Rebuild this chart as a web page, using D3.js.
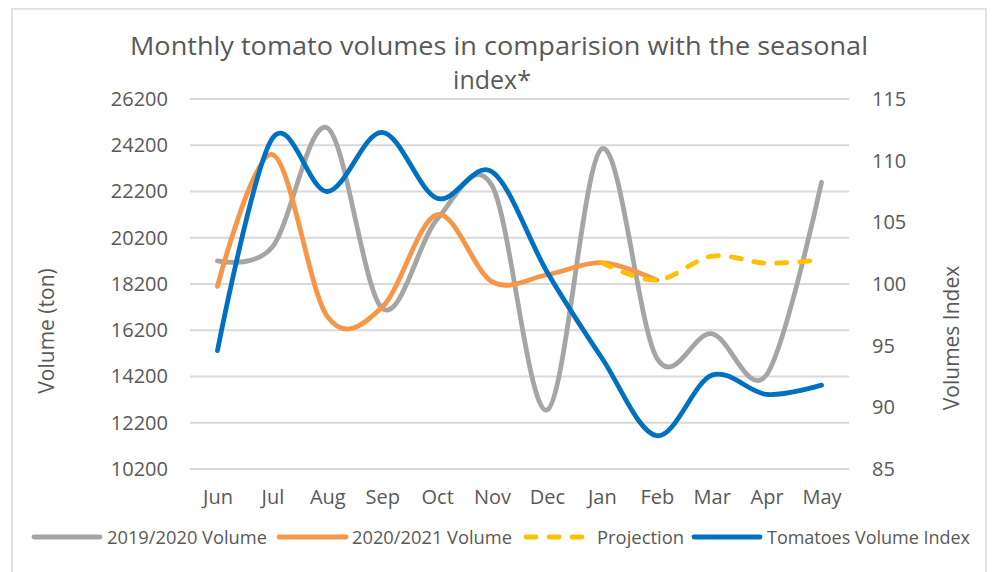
<!DOCTYPE html>
<html>
<head>
<meta charset="utf-8">
<script src="https://cdn.jsdelivr.net/npm/d3@7"></script>
<style>
  body { margin: 0; background: #fff; }
  #graph01 { width: 994px; height: 572px; }
  text { font-family: "Open Sans", "Noto Sans", sans-serif; fill: #595959; }
</style>
</head>
<body>
<div id="graph01"></div>
<script>
// data
const months = ["Jun", "Jul", "Aug", "Sep", "Oct", "Nov", "Dec", "Jan", "Feb", "Mar", "Apr", "May"];
const volume1920 = [19200, 19800, 24950, 17150, 21000, 22450, 12750, 24050, 15000, 16050, 14280, 22600];
const volume2021 = [18100, 23800, 16800, 17200, 21200, 18300, 18600, 19120, 18370];
const projectionMonths = ["Jan", "Feb", "Mar", "Apr", "May"];
const projection = [19120, 18370, 19400, 19100, 19250];
const volumeIndex = [94.6, 111.8, 107.5, 112.3, 106.95, 109.1, 101.0, 94.0, 87.7, 92.6, 91.05, 91.8];
const leftTicks = [10200, 12200, 14200, 16200, 18200, 20200, 22200, 24200, 26200];
const rightTicks = [85, 90, 95, 100, 105, 110, 115];

(function() {
    const contents = d3.select('#graph01');
    const svg = contents.append("svg")
        .attr("width", 994)
        .attr("height", 572);

    // outer frame
    svg.append("rect")
        .attr("x", 12).attr("y", 9)
        .attr("width", 974).attr("height", 600)
        .attr("fill", "#fff")
        .attr("stroke", "#d9d9d9")
        .attr("stroke-width", 1.5);

    const scale = setupGraph(svg);

    const line1 = months.map((m, i) => ({ m: m, v: volume1920[i] }));
    const line2 = volume2021.map((v, i) => ({ m: months[i], v: v }));
    const line3 = projectionMonths.map((m, i) => ({ m: m, v: projection[i] }));
    const line4 = months.map((m, i) => ({ m: m, v: volumeIndex[i] }));

    drawLine(svg, line1, scale.x, scale.y, "#a5a5a5", null);
    drawLine(svg, line2, scale.x, scale.y, "#f79646", null);
    drawLine(svg, line3, scale.x, scale.y, "#ffc000", "10,13");
    drawLine(svg, line4, scale.x, scale.y2, "#0070c0", null);

    drawLegend(svg);
})();

function setupGraph(svg) {
    const left = 190, right = 849, top = 99, bottom = 469;

    const xScale = d3.scalePoint()
        .domain(months)
        .range([left, right])
        .padding(0.5);

    const yScale = d3.scaleLinear()
        .domain([10200, 26200])
        .range([bottom, top]);

    const y2Scale = d3.scaleLinear()
        .domain([85, 115])
        .range([bottom, top]);

    // grid lines
    svg.append("g")
        .selectAll("line")
        .data(leftTicks)
        .join("line")
        .attr("x1", left).attr("x2", right)
        .attr("y1", d => yScale(d)).attr("y2", d => yScale(d))
        .attr("stroke", "#d9d9d9")
        .attr("stroke-width", 1.8);

    const axisy = d3.axisLeft(yScale).tickValues(leftTicks).tickFormat(d3.format("d")).tickSize(0).tickPadding(22);
    const axisy2 = d3.axisRight(y2Scale).tickValues(rightTicks).tickSize(0).tickPadding(23);
    const axisx = d3.axisBottom(xScale).tickSize(0).tickPadding(21);

    const gy = svg.append("g").attr("transform", "translate(" + left + ",0)").call(axisy);
    const gy2 = svg.append("g").attr("transform", "translate(" + right + ",0)").call(axisy2);
    const gx = svg.append("g").attr("transform", "translate(0," + bottom + ")").call(axisx);

    [gy, gy2, gx].forEach(g => {
        g.select(".domain").remove();
        g.selectAll("text")
            .style("font-family", "'Open Sans', sans-serif")
            .style("font-size", "20px")
            .attr("fill", "#595959");
    });

    // title
    svg.append("text")
        .attr("x", 499).attr("y", 55)
        .attr("text-anchor", "middle")
        .attr("textLength", 738).attr("lengthAdjust", "spacingAndGlyphs")
        .style("font-size", "25px")
        .text("Monthly tomato volumes in comparision with the seasonal");
    svg.append("text")
        .attr("x", 492).attr("y", 89)
        .attr("text-anchor", "middle")
        .style("font-size", "25px")
        .text("index*");

    // axis titles
    svg.append("text")
        .attr("transform", "translate(54,331) rotate(-90)")
        .attr("text-anchor", "middle")
        .style("font-size", "21px")
        .text("Volume (ton)");
    svg.append("text")
        .attr("transform", "translate(959,338) rotate(-90)")
        .attr("text-anchor", "middle")
        .style("font-size", "21px")
        .text("Volumes Index");

    return { x: xScale, y: yScale, y2: y2Scale };
}

function drawLine(svg, dataset, xScale, yScale, color, dash) {
    const line = d3.line()
        .x(d => xScale(d.m))
        .y(d => yScale(d.v))
        .curve(d3.curveCardinal.tension(0));
    svg.append("path")
        .datum(dataset)
        .attr("fill", "none")
        .attr("stroke", color)
        .attr("stroke-width", 4.8)
        .attr("stroke-linecap", "round")
        .attr("stroke-linejoin", "round")
        .attr("stroke-dasharray", dash)
        .attr("d", line);
}

function drawLegend(svg) {
    const items = [
        { label: "2019/2020 Volume", color: "#a5a5a5", dash: null, x1: 34, x2: 100, tx: 107, tl: 160 },
        { label: "2020/2021 Volume", color: "#f79646", dash: null, x1: 279, x2: 346, tx: 352, tl: 160 },
        { label: "Projection", color: "#ffc000", dash: "10,13", x1: 526, x2: 588, tx: 597, tl: 87 },
        { label: "Tomatoes Volume Index", color: "#0070c0", dash: null, x1: 694, x2: 760, tx: 767, tl: 203 }
    ];
    const y = 537;
    const g = svg.append("g");
    items.forEach(d => {
        g.append("line")
            .attr("x1", d.x1).attr("x2", d.x2)
            .attr("y1", y).attr("y2", y)
            .attr("stroke", d.color)
            .attr("stroke-width", 4.8)
            .attr("stroke-linecap", "round")
            .attr("stroke-dasharray", d.dash);
        g.append("text")
            .attr("x", d.tx).attr("y", y + 7)
            .attr("textLength", d.tl).attr("lengthAdjust", "spacingAndGlyphs")
            .style("font-size", "19px")
            .text(d.label);
    });
}
</script>
</body>
</html>
